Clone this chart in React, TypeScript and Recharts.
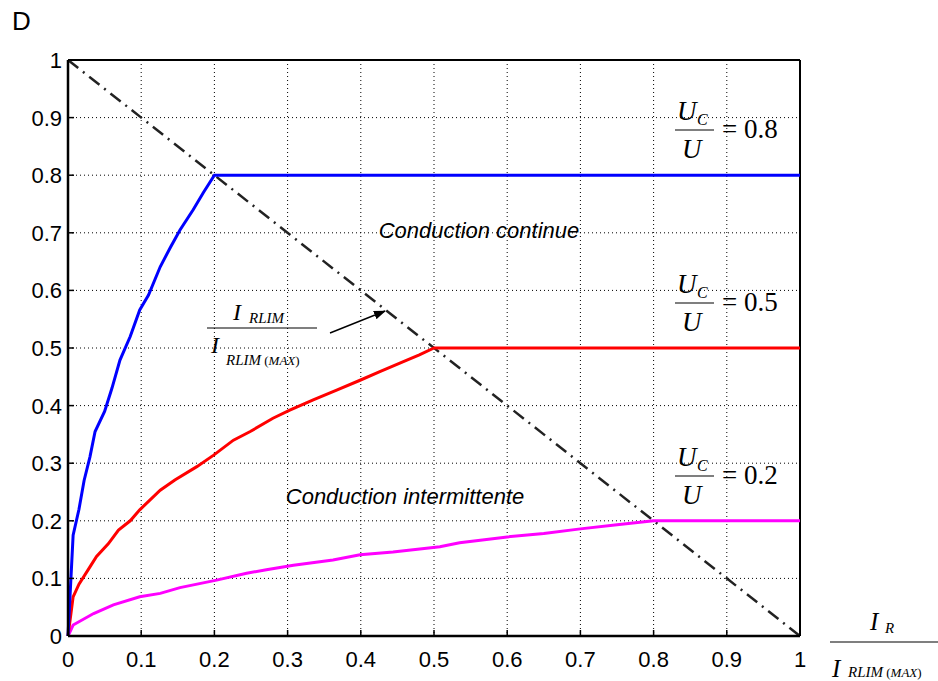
import { LineChart, Line, XAxis, YAxis, CartesianGrid, ReferenceLine } from 'recharts';

const ticks = [0, 0.1, 0.2, 0.3, 0.4, 0.5, 0.6, 0.7, 0.8, 0.9, 1];

// Uc/U = 0.8
const blueX = [0, 0.007, 0.015, 0.022, 0.03, 0.037, 0.05, 0.06, 0.071, 0.085, 0.098, 0.11, 0.126, 0.14, 0.153, 0.171, 0.185, 0.2, 1];
const blueY = [0, 0.175, 0.22, 0.27, 0.311, 0.355, 0.39, 0.43, 0.479, 0.52, 0.566, 0.592, 0.641, 0.675, 0.705, 0.74, 0.77, 0.8, 0.8];

// Uc/U = 0.5
const redX = [0, 0.007, 0.015, 0.03, 0.039, 0.055, 0.069, 0.085, 0.098, 0.126, 0.146, 0.176, 0.199, 0.226, 0.249, 0.28, 0.303, 0.335, 0.367, 0.399, 0.426, 0.463, 0.48, 0.5, 1];
const redY = [0, 0.068, 0.09, 0.12, 0.138, 0.16, 0.184, 0.2, 0.219, 0.253, 0.271, 0.294, 0.314, 0.34, 0.355, 0.378, 0.392, 0.41, 0.427, 0.444, 0.459, 0.479, 0.488, 0.5, 0.5];

// Uc/U = 0.2
const magX = [0, 0.007, 0.035, 0.062, 0.098, 0.126, 0.153, 0.203, 0.244, 0.271, 0.308, 0.362, 0.399, 0.444, 0.508, 0.535, 0.6, 0.65, 0.7, 0.75, 0.8, 1];
const magY = [0, 0.019, 0.039, 0.054, 0.068, 0.074, 0.084, 0.097, 0.109, 0.115, 0.123, 0.132, 0.141, 0.146, 0.155, 0.162, 0.172, 0.178, 0.186, 0.193, 0.2, 0.2];

// limit I_RLIM / I_RLIM(MAX)
const limX = [0, 1];
const limY = [1, 0];

const toPts = (xs: number[], ys: number[]) => xs.map((x, i) => ({ x, y: ys[i] }));

const serif = 'Liberation Serif, Times New Roman, serif';
const sans = 'Liberation Sans, Arial, sans-serif';
const TICK = 6;

// matlab style: inward tick + label outside
const BottomTick = ({ x, y, payload }: any) => (
  <g>
    <line x1={x} y1={y} x2={x} y2={y - TICK} stroke="#000" strokeWidth={1.5} />
    <text x={x} y={y + 31} textAnchor="middle" fontFamily={sans} fontSize={22} fill="#000">{String(payload.value)}</text>
  </g>
);
const LeftTick = ({ x, y, payload }: any) => (
  <g>
    <line x1={x} y1={y} x2={x + TICK} y2={y} stroke="#000" strokeWidth={1.5} />
    <text x={x - 6} y={y} dy="0.36em" textAnchor="end" fontFamily={sans} fontSize={22} fill="#000">{String(payload.value)}</text>
  </g>
);
const TopTick = ({ x, y }: any) => <line x1={x} y1={y} x2={x} y2={y + TICK} stroke="#000" strokeWidth={1.5} />;
const RightTick = ({ x, y }: any) => <line x1={x} y1={y} x2={x - TICK} y2={y} stroke="#000" strokeWidth={1.5} />;

const Ratio = ({ x, y, value }: { x: number; y: number; value: string }) => (
  <g>
    <text x={x} y={y} fontFamily={serif} fontStyle="italic" fontSize={27}>U</text>
    <text x={x + 20} y={y + 5} fontFamily={serif} fontStyle="italic" fontSize={16}>C</text>
    <line x1={x - 2} y1={y + 10} x2={x + 37} y2={y + 10} stroke="#000" strokeWidth={1.2} />
    <text x={x + 5} y={y + 38} fontFamily={serif} fontStyle="italic" fontSize={27}>U</text>
    <text x={x + 45} y={y + 18} fontFamily={serif} fontSize={27}>= {value}</text>
  </g>
);

export default function App() {
  return (
    <div style={{ position: 'absolute', left: 0, top: 0, width: 938, height: 681 }}>
      <LineChart width={938} height={681} margin={{ top: 60, right: 138, left: 18, bottom: 15 }}>
        <CartesianGrid stroke="#000" strokeDasharray="1 3" strokeWidth={1} />
        <XAxis
          type="number"
          dataKey="x"
          domain={[0, 1]}
          ticks={ticks}
          height={30}
          stroke="#000"
          strokeWidth={2.5}
          tickLine={false}
          tickSize={0}
          tickMargin={0}
          tick={<BottomTick />}
          allowDuplicatedCategory={false}
        />
        <XAxis
          xAxisId="top"
          orientation="top"
          type="number"
          domain={[0, 1]}
          ticks={ticks}
          height={0}
          axisLine={false}
          tickLine={false}
          tickSize={0}
          tickMargin={0}
          tick={<TopTick />}
        />
        <YAxis
          type="number"
          dataKey="y"
          domain={[0, 1]}
          ticks={ticks}
          width={50}
          stroke="#000"
          strokeWidth={2.5}
          tickLine={false}
          tickSize={0}
          tickMargin={0}
          tick={<LeftTick />}
        />
        <YAxis
          yAxisId="right"
          orientation="right"
          type="number"
          domain={[0, 1]}
          ticks={ticks}
          width={0}
          axisLine={false}
          tickLine={false}
          tickSize={0}
          tickMargin={0}
          tick={<RightTick />}
        />
        <ReferenceLine y={1} stroke="#000" strokeWidth={2} />
        <ReferenceLine x={1} stroke="#000" strokeWidth={2} />
        <Line data={toPts(limX, limY)} dataKey="y" stroke="#222" strokeWidth={2.5} strokeDasharray="13 6 2 6" dot={false} isAnimationActive={false} />
        <Line data={toPts(magX, magY)} dataKey="y" stroke="#ff00ff" strokeWidth={3} dot={false} isAnimationActive={false} />
        <Line data={toPts(redX, redY)} dataKey="y" stroke="#ff0000" strokeWidth={3} dot={false} isAnimationActive={false} />
        <Line data={toPts(blueX, blueY)} dataKey="y" stroke="#0000ff" strokeWidth={3} dot={false} isAnimationActive={false} />
      </LineChart>
      <svg width={938} height={681} style={{ position: 'absolute', left: 0, top: 0, pointerEvents: 'none' }}>
        <defs>
          <marker id="arr" markerWidth="12" markerHeight="9" refX="11" refY="4.5" orient="auto" markerUnits="userSpaceOnUse">
            <path d="M0,0 L12,4.5 L0,9 Z" fill="#000" />
          </marker>
        </defs>
        <text x={12} y={30} fontFamily={sans} fontSize={26}>D</text>
        <Ratio x={677} y={120} value="0.8" />
        <Ratio x={677} y={293} value="0.5" />
        <Ratio x={677} y={466} value="0.2" />
        <text x={479} y={238} textAnchor="middle" fontFamily={sans} fontStyle="italic" fontSize={22}>Conduction continue</text>
        <text x={405} y={504} textAnchor="middle" fontFamily={sans} fontStyle="italic" fontSize={22}>Conduction intermittente</text>
        {/* I_RLIM / I_RLIM(MAX) */}
        <text x={233} y={320} fontFamily={serif} fontStyle="italic" fontSize={24}>I</text>
        <text x={249} y={323} fontFamily={serif} fontStyle="italic" fontSize={15}>RLIM</text>
        <line x1={207} y1={328} x2={317} y2={328} stroke="#000" strokeWidth={1.2} />
        <text x={211} y={353} fontFamily={serif} fontStyle="italic" fontSize={24}>I</text>
        <text x={226} y={365} fontFamily={serif} fontStyle="italic" fontSize={15}>
          RLIM<tspan fontSize={13} fontStyle="normal"> (</tspan><tspan fontSize={13}>MAX</tspan><tspan fontSize={13} fontStyle="normal">)</tspan>
        </text>
        <line x1={330} y1={333} x2={385} y2={311} stroke="#000" strokeWidth={1.5} markerEnd="url(#arr)" />
        {/* I_R / I_RLIM(MAX) */}
        <text x={870} y={630} fontFamily={serif} fontStyle="italic" fontSize={25}>I</text>
        <text x={885} y={633} fontFamily={serif} fontStyle="italic" fontSize={15}>R</text>
        <line x1={830} y1={642} x2={938} y2={642} stroke="#000" strokeWidth={1.2} />
        <text x={832} y={677} fontFamily={serif} fontStyle="italic" fontSize={25}>I</text>
        <text x={848} y={677} fontFamily={serif} fontStyle="italic" fontSize={15}>
          RLIM<tspan fontSize={13} fontStyle="normal"> (</tspan><tspan fontSize={13}>MAX</tspan><tspan fontSize={13} fontStyle="normal">)</tspan>
        </text>
      </svg>
    </div>
  );
}
